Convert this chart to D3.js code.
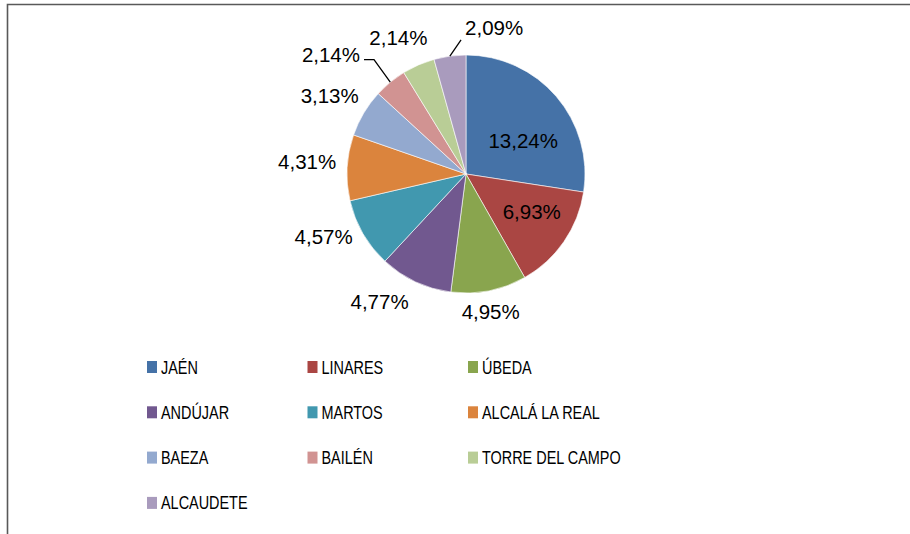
<!DOCTYPE html>
<html>
<head>
<meta charset="utf-8">
<script src="https://cdn.jsdelivr.net/npm/d3@7"></script>
<style>
  body { margin: 0; background: #fff; }
  .lbl { font-family: "Liberation Sans", Arial, sans-serif; font-size: 20.5px; fill: #000; }
  .leg { font-family: "Liberation Sans", Arial, sans-serif; font-size: 18.5px; fill: #000; }
</style>
</head>
<body>
<div id="chart"></div>
<script>
// data
var cities = ["JAÉN", "LINARES", "ÚBEDA", "ANDÚJAR", "MARTOS", "ALCALÁ LA REAL",
              "BAEZA", "BAILÉN", "TORRE DEL CAMPO", "ALCAUDETE"];
var shares = [13.24, 6.93, 4.95, 4.77, 4.57, 4.31, 3.13, 2.14, 2.14, 2.09];

// excel 2007 palette
var colors = ["#4572A7", "#AA4643", "#89A54E", "#71588F", "#4198AF",
              "#DB843D", "#93A9CF", "#D19392", "#B9CD96", "#A99BBD"];

var width = 910, height = 534;
var cx = 466, cy = 174, radius = 119;
var insideCount = 2;   // first slices get their label inside
// hand placed label shifts, like excel does when labels collide
var labelNudge = [[3, 13], [7, -3], [-5, 4], [-21, 4], [-9, -6], [-5, -5],
                  [-4, -8], [-37, -14], [-6, -11], [49, -11]];
var legendSquash = 0.78;  // narrow legend font (calibri-ish width)

var locale = d3.formatLocale({decimal: ",", thousands: ".", grouping: [3], currency: ["", "€"]});
var fmt = locale.format(".2f");

var svg = d3.select("#chart").append("svg")
    .attr("width", width)
    .attr("height", height);

// chart area border (only top and left are visible in the picture)
svg.append("path")
    .attr("d", "M7.5," + height + "V4.5H" + width)
    .attr("fill", "none")
    .attr("stroke", "#595959")
    .attr("stroke-width", 1.6);

var pie = d3.pie().sort(null).value(function(d) { return d; });
var arcs = pie(shares);

var arc = d3.arc().innerRadius(0).outerRadius(radius);
var inArc = d3.arc().innerRadius(radius * 0.6).outerRadius(radius * 0.6);

var g = svg.append("g")
    .attr("transform", "translate(" + cx + "," + cy + ")");

g.selectAll(".slice")
    .data(arcs)
  .enter().append("path")
    .attr("class", "slice")
    .attr("d", arc)
    .attr("fill", function(d, i) { return colors[i]; })
    .attr("stroke", "#fff")
    .attr("stroke-width", 0.6);

// labels
var labels = g.selectAll(".lbl")
    .data(arcs)
  .enter().append("text")
    .attr("class", "lbl")
    .attr("text-anchor", "middle")
    .attr("dy", "0.35em")
    .text(function(d) { return fmt(d.value) + "%"; });

labels.each(function(d, i) {
  var t = d3.select(this);
  var b = this.getBBox();
  var mid = (d.startAngle + d.endAngle) / 2;
  var ux = Math.sin(mid), uy = -Math.cos(mid);
  var px, py;
  if (i < insideCount) {
    var c = inArc.centroid(d);
    px = c[0]; py = c[1];
  } else {
    px = (radius + 6) * ux + ux * b.width / 2;
    py = (radius + 6) * uy + uy * b.height / 2;
  }
  px += labelNudge[i][0];
  py += labelNudge[i][1];
  t.attr("x", px).attr("y", py);

  // leader line when the label was pushed far from its slice
  var moved = Math.hypot(labelNudge[i][0], labelNudge[i][1]);
  if (i >= insideCount && moved > 30) {
    var ax = radius * ux, ay = radius * uy;
    var bb = this.getBBox();
    var left = bb.x, right = bb.x + bb.width, top = bb.y + 3, bottom = bb.y + bb.height - 3;
    var dx = ax < left ? left - ax : (ax > right ? ax - right : 0);
    var dy = ay < top ? top - ay : (ay > bottom ? ay - bottom : 0);
    var pts;
    if (dx > dy) {
      var sx = ax > right ? right + 4 : left - 4;
      var dir = ax > right ? 1 : -1;
      var sy = py + 5;
      pts = [[ax, ay], [sx + dir * 10, sy], [sx, sy]];
    } else {
      var ex = ax < left ? left - 4 : (ax > right ? right + 4 : ax);
      var ey = ay > bottom ? bottom + 4 : top - 4;
      pts = [[ax, ay], [ex, ey]];
    }
    g.append("path")
        .attr("d", d3.line()(pts))
        .attr("fill", "none")
        .attr("stroke", "#000")
        .attr("stroke-width", 1.3);
  }
});

// legend
var col = d3.scaleLinear().domain([0, 1]).range([147, 307.5]);
var row = d3.scaleLinear().domain([0, 1]).range([367, 412.3]);

var leg = svg.selectAll(".legitem")
    .data(cities)
  .enter().append("g")
    .attr("class", "legitem")
    .attr("transform", function(d, i) {
      return "translate(" + col(i % 3) + "," + row(Math.floor(i / 3)) + ")";
    });

leg.append("rect")
    .attr("x", 0)
    .attr("y", -6)
    .attr("width", 10)
    .attr("height", 12)
    .attr("fill", function(d, i) { return colors[i]; });

leg.append("text")
    .attr("class", "leg")
    .attr("transform", "translate(14,6.5) scale(" + legendSquash + ",1)")
    .text(function(d) { return d; });
</script>
</body>
</html>
